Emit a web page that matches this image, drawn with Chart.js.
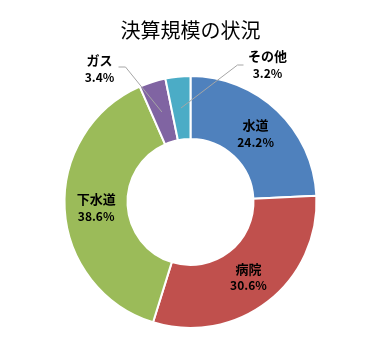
<!DOCTYPE html>
<html>
<head>
<meta charset="utf-8">
<script src="https://cdn.jsdelivr.net/npm/chart.js@4/dist/chart.umd.min.js"></script>
<style>
html,body{margin:0;padding:0;background:#fff;}
#wrap{width:381px;height:364px;position:relative;}
</style>
</head>
<body>
<div id="wrap"><canvas id="c" width="381" height="364"></canvas></div>
<script>
const chartTitle = "決算規模の状況";
const categories = ["水道", "病院", "下水道", "ガス", "その他"];
const shares = [24.2, 30.6, 38.6, 3.4, 3.2];
const colors = ["#4F81BD", "#C0504D", "#9BBB59", "#8064A2", "#4BACC6"];
const pctLabels = shares.map(v => v.toFixed(1) + "%");

const FONT = "'Noto Sans CJK JP', 'Noto Sans', sans-serif";

const labelPlugin = {
  id: 'sliceLabels',
  afterDatasetsDraw(chart) {
    const ctx = chart.ctx;
    const meta = chart.getDatasetMeta(0);
    ctx.save();
    ctx.textAlign = 'center';
    ctx.textBaseline = 'middle';
    ctx.fillStyle = '#000';
    meta.data.forEach((arc, i) => {
      const p = arc.tooltipPosition();
      const cx = arc.x, cy = arc.y;
      if (shares[i] >= 10) {
        ctx.font = "bold 13px " + FONT;
        ctx.fillText(categories[i], p.x, p.y - 8);
        ctx.font = "bold 12px " + FONT;
        ctx.fillText(pctLabels[i], p.x, p.y + 9);
      } else {
        let lx, ly;
        if (i === 3) { lx = cx - 91; ly = cy - 133; }
        else { lx = cx + 77; ly = cy - 137; }
        ctx.strokeStyle = '#A6A6A6';
        ctx.lineWidth = 1;
        ctx.beginPath();
        const yline = (i === 3) ? cy - 135 : cy - 137;
        const x0 = (i === 3) ? lx + 19 : lx - 24;
        const x1 = (i === 3) ? lx + 26 : lx - 30;
        ctx.moveTo(x0, yline);
        ctx.lineTo(x1, yline);
        ctx.lineTo(p.x, p.y);
        ctx.stroke();
        ctx.font = "bold 13px " + FONT;
        ctx.fillText(categories[i], lx, ly - 9);
        ctx.font = "bold 12px " + FONT;
        ctx.fillText(pctLabels[i], lx, ly + 8);
      }
    });
    ctx.restore();
  }
};

new Chart(document.getElementById('c'), {
  type: 'doughnut',
  data: {
    labels: categories,
    datasets: [{
      data: shares,
      backgroundColor: colors,
      borderColor: '#fff',
      borderWidth: 2
    }]
  },
  options: {
    responsive: false,
    animation: false,
    cutout: '50%',
    layout: { padding: { top: 0, bottom: 35, left: 0, right: 0 } },
    plugins: {
      legend: { display: false },
      tooltip: { enabled: false },
      title: {
        display: true,
        text: chartTitle,
        color: '#000',
        font: { family: FONT, size: 20, weight: 'normal' },
        padding: { top: 18, bottom: 33 }
      }
    }
  },
  plugins: [labelPlugin]
});
</script>
</body>
</html>
